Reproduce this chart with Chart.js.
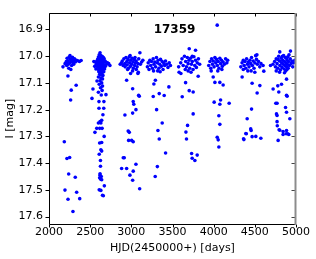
<!DOCTYPE html>
<html>
<head>
<meta charset="utf-8">
<script src="https://cdn.jsdelivr.net/npm/chart.js@4.4.0/dist/chart.umd.min.js"></script>
<style>
  html, body { margin: 0; padding: 0; background: #fff; }
  #lc { display: block; }
</style>
</head>
<body>
<canvas id="lc" width="316" height="259"></canvas>
<script>
// light curve of star 17359, one pair of arrays per observing season
const hjd1 = [2170,2195,2210,2220,2230,2235,2245,2255,2260,2270,2275,2285,2290,2300,2310,2320,2335,2350,2370,2390,2240,2265,2225,2250,2280,2300,2215,
  2230,2330,2270,2263,2186,2218,2251,2239,2319,2194,2336,2231,2373,2291];
const mag1 = [17.040,17.028,17.020,17.008,17.017,17.030,17.003,16.998,17.012,17.020,17.035,17.004,17.025,17.018,17.010,17.022,17.015,17.017,17.020,17.016,17.045,17.050,17.026,17.025,17.012,17.030,17.035,
  17.074,17.109,17.127,17.164,17.320,17.383,17.379,17.441,17.453,17.501,17.509,17.535,17.533,17.581];

const hjd2 = [2620,2610,2630,2640,2600,2650,2660,2615,2625,2645,2670,2590,2605,2635,2655,2680,2545,2560,2580,2600,2620,2640,2660,2690,2710,2575,2595,2612,2632,2650,2668,2700,2725,
  2555,2590,2610,2628,2645,2662,2685,2740,2570,2600,2622,2640,2658,2675,2605,2625,2645,2665,2615,2635,2655,2600,2630,2650,2620,2583,2640,2610,2650,2534,2625,2645,2600,2522,2635,2692,
  2607,2667,2607,2665,2655,2620,2630,2640,2580,2615,2558,2670,2615,2640,2630,2640,2610,2625,2625,2620,2635,2615,2628,2640,2672,2610,2630,2650,2660,2620,2645,2600];
const mag2 = [16.987,16.995,16.998,17.000,17.003,17.002,17.005,17.008,17.010,17.010,17.010,17.012,17.015,17.015,17.016,17.018,17.020,17.022,17.020,17.024,17.022,17.025,17.024,17.022,17.025,17.030,17.032,17.030,17.033,17.030,17.032,17.030,17.028,
  17.038,17.040,17.040,17.042,17.040,17.041,17.038,17.035,17.048,17.050,17.050,17.052,17.050,17.048,17.058,17.060,17.062,17.058,17.068,17.070,17.072,17.078,17.082,17.085,17.092,17.093,17.100,17.105,17.112,17.123,17.118,17.128,17.135,17.158,17.145,17.144,
  17.170,17.170,17.195,17.195,17.219,17.245,17.250,17.240,17.270,17.270,17.285,17.300,17.325,17.323,17.350,17.355,17.367,17.390,17.412,17.445,17.450,17.455,17.460,17.462,17.485,17.500,17.502,17.520,17.522,17.440,17.270,17.250];

const hjd3 = [2865,2880,2890,2900,2910,2920,2925,2935,2945,2950,2960,2965,2975,2980,2990,2995,3005,3010,3020,3025,3035,3040,3050,3060,3070,3080,3090,3104,3110,3125,3140,2955,3015,3060,3045,2985,
  2943,2991,3080,3085,3016,3089,3023,3030,2922,3016,3056,3096,2962,2975,2967,3004,3023,2902,2914,2882,2943,2983,3023,3056,3016,3101];
const mag3 = [17.030,17.025,17.018,17.035,17.010,17.028,17.040,17.005,17.020,17.032,17.012,17.045,17.002,17.025,17.038,17.015,17.030,17.008,17.022,17.045,17.012,17.035,17.025,17.018,17.040,17.028,17.010,16.987,17.030,17.022,17.015,17.050,17.055,17.050,17.005,16.998,
  17.090,17.065,17.065,17.060,17.122,17.146,17.170,17.180,17.220,17.213,17.200,17.150,17.280,17.285,17.315,17.315,17.320,17.380,17.380,17.420,17.420,17.445,17.430,17.404,17.464,17.496];

const hjd4 = [3195,3205,3215,3225,3235,3245,3255,3265,3275,3285,3295,3305,3315,3325,3335,3345,3355,3365,3375,3385,3395,3405,3415,3430,3445,3460,3475,3320,3270,3350,
  3274,3292,3266,3339,3399,3456,3307,3375,3323,3339,3416,3316,3290];
const mag4 = [17.040,17.025,17.050,17.015,17.035,17.020,17.045,17.010,17.030,17.022,17.040,17.005,17.025,17.015,17.045,17.030,17.012,17.038,17.020,17.050,17.028,17.035,17.018,17.030,17.042,17.025,17.035,17.055,17.055,17.058,
  17.104,17.090,17.151,17.140,17.147,17.115,17.200,17.250,17.278,17.310,17.362,17.413,17.450];

const hjd5 = [3703,3780,3600,3615,3630,3645,3660,3670,3680,3690,3700,3710,3720,3730,3740,3750,3760,3770,3780,3790,3800,3815,3830,3690,3725,3655,3575,3740,
  3602,3659,3618,3703,3751,3751,3683,3663,3670,3732,3739,3772,3800,3812,3580];
const mag5 = [16.972,16.978,17.025,17.010,17.035,17.000,17.020,17.040,17.005,17.028,17.015,17.045,17.008,17.030,17.020,17.050,17.002,17.035,17.015,17.042,17.025,17.010,17.030,17.055,17.060,17.050,17.040,17.000,
  17.065,17.099,17.152,17.129,17.134,17.216,17.259,17.284,17.310,17.364,17.382,17.390,17.370,17.075,17.060];

const hjd6 = [3940,3955,3965,3975,3985,3995,4005,4015,4025,4035,4045,4055,4065,4075,4085,4095,4105,4115,4130,4145,4160,4170,4050,3970,4100,
  4043,3994,4015,4075,4115,4006,4084,4075,4188,4063,4075,4043,4055,4063];
const mag6 = [17.035,17.020,17.045,17.010,17.030,17.018,17.040,17.005,17.025,17.012,17.035,17.020,17.045,17.008,17.028,17.015,17.038,17.022,17.030,17.010,17.025,17.015,17.055,17.055,17.050,
  16.884,17.078,17.098,17.098,17.108,17.172,17.164,17.180,17.176,17.223,17.255,17.303,17.313,17.340];

const hjd7 = [4330,4345,4360,4370,4380,4390,4400,4410,4420,4430,4440,4450,4460,4470,4480,4490,4500,4510,4520,4530,4545,4560,4575,4600,4415,4455,4500,4360,4525,
  4346,4467,4561,4528,4460,4407,4450,4455,4391,4396,4467,4512,4363,4367,4573,4609];
const mag7 = [17.040,17.025,17.015,17.035,17.020,17.045,17.010,17.030,17.022,17.040,17.015,17.028,17.005,17.035,17.018,17.045,17.025,16.998,17.012,17.030,17.020,17.040,17.028,17.035,17.055,17.055,17.060,17.050,16.995,
  17.078,17.101,17.110,17.138,17.198,17.234,17.272,17.278,17.289,17.290,17.301,17.300,17.309,17.312,17.307,17.056];

const hjd8 = [4803,4933,4690,4720,4740,4750,4760,4770,4780,4790,4800,4805,4810,4820,4825,4830,4840,4845,4850,4855,4860,4865,4870,4875,4880,4885,4890,4895,4900,4905,4910,4920,4930,4940,4950,4960,4970,4985,4800,4860,4835,4915,4780,4760,4890,
  4722,4779,4824,4885,4791,4885,4755,4770,4873,4885,4763,4770,4925,4770,4773,4795,4843,4885,4803,4843,4880,4900,4913,4783,4892];
const mag8 = [16.984,16.981,17.035,17.030,17.020,17.040,17.010,17.028,17.045,17.000,17.018,17.035,17.052,17.008,17.025,17.042,17.015,17.030,16.998,17.048,17.020,17.035,17.005,17.055,17.025,17.040,17.012,17.030,17.002,17.045,17.020,17.035,17.010,17.028,17.018,17.040,17.025,17.015,17.060,17.062,17.000,16.995,17.012,17.055,17.050,
  17.123,17.111,17.105,17.086,17.134,17.146,17.176,17.176,17.192,17.210,17.216,17.222,17.234,17.245,17.260,17.275,17.282,17.278,17.277,17.293,17.290,17.290,17.293,17.315,17.150];

const xTicks = [2000, 2500, 3000, 3500, 4000, 4500, 5000];
const yTicks = [16.9, 17.0, 17.1, 17.2, 17.3, 17.4, 17.5, 17.6];
const starId = '17359';

const seasons = [[hjd1, mag1], [hjd2, mag2], [hjd3, mag3], [hjd4, mag4], [hjd5, mag5], [hjd6, mag6], [hjd7, mag7], [hjd8, mag8]];
const points = [];
seasons.forEach(s => {
    s[0].forEach((t, i) => points.push({ x: t, y: s[1][i] }));
});

// frame and tick marks like the original: left/bottom out, top/right in
const framePlugin = {
    id: 'frame',
    afterDatasetsDraw(chart) {
        const ctx = chart.ctx;
        const a = chart.chartArea;
        const xs = chart.scales.x, ys = chart.scales.y;
        const l = Math.round(a.left) + 0.5, t = Math.round(a.top) + 0.5;
        const r = Math.round(a.right) - 0.5, b = Math.round(a.bottom) - 0.5;
        ctx.save();
        ctx.lineWidth = 1;
        ctx.strokeStyle = '#000';
        ctx.beginPath();
        ctx.moveTo(r, t); ctx.lineTo(l, t); ctx.lineTo(l, b); ctx.lineTo(r, b);
        xs.ticks.forEach(tk => {
            const px = Math.round(xs.getPixelForValue(tk.value)) + 0.5;
            ctx.moveTo(px, b); ctx.lineTo(px, b + 3);
            ctx.moveTo(px, t); ctx.lineTo(px, t + 3);
        });
        ys.ticks.forEach(tk => {
            const py = Math.round(ys.getPixelForValue(tk.value)) + 0.5;
            ctx.moveTo(l, py); ctx.lineTo(l - 4, py);
        });
        ctx.stroke();
        ctx.strokeStyle = '#444';
        ctx.beginPath();
        ys.ticks.forEach(tk => {
            const py = Math.round(ys.getPixelForValue(tk.value)) + 0.5;
            ctx.moveTo(r, py); ctx.lineTo(r - 4, py);
        });
        ctx.stroke();
        ctx.strokeStyle = '#8c8c8c';
        ctx.lineWidth = 2;
        ctx.beginPath();
        ctx.moveTo(r, t - 0.5); ctx.lineTo(r, b + 0.5);
        ctx.stroke();
        ctx.fillStyle = '#000';
        ctx.font = 'bold 12px "DejaVu Sans"';
        ctx.textAlign = 'center';
        ctx.textBaseline = 'middle';
        ctx.fillText(starId, (a.left + a.right) / 2 + 2, a.top + 17);
        ctx.restore();
    }
};

const tickFont = { family: 'DejaVu Sans', size: 11 };

new Chart(document.getElementById('lc'), {
    type: 'scatter',
    data: {
        datasets: [{
            data: points,
            backgroundColor: '#0000ff',
            borderWidth: 0,
            pointRadius: 1.8,
            pointHoverRadius: 1.8
        }]
    },
    options: {
        responsive: false,
        animation: false,
        devicePixelRatio: 1,
        layout: { padding: { left: 4, top: 5, right: 20, bottom: 4 } },
        plugins: { legend: { display: false }, tooltip: { enabled: false } },
        scales: {
            x: {
                min: 2000,
                max: 5000,
                grid: { display: false, drawTicks: false },
                border: { display: false },
                afterBuildTicks: s => { s.ticks = xTicks.map(v => ({ value: v })); },
                ticks: { color: '#000', font: tickFont, padding: 1, maxRotation: 0, autoSkip: false, callback: v => String(v) },
                title: { display: true, text: 'HJD(2450000+) [days]', color: '#000', font: tickFont, padding: { top: 2, bottom: 0 } }
            },
            y: {
                reverse: true,
                min: 16.837,
                max: 17.63,
                grid: { display: false, drawTicks: false },
                border: { display: false },
                afterBuildTicks: s => { s.ticks = yTicks.map(v => ({ value: v })); },
                afterFit: s => { s.width = 45; },
                ticks: { color: '#000', font: tickFont, padding: 6, autoSkip: false, callback: v => v.toFixed(1) },
                title: { display: true, text: 'I [mag]', color: '#000', font: tickFont, padding: 0 }
            }
        }
    },
    plugins: [framePlugin]
});
</script>
</body>
</html>
